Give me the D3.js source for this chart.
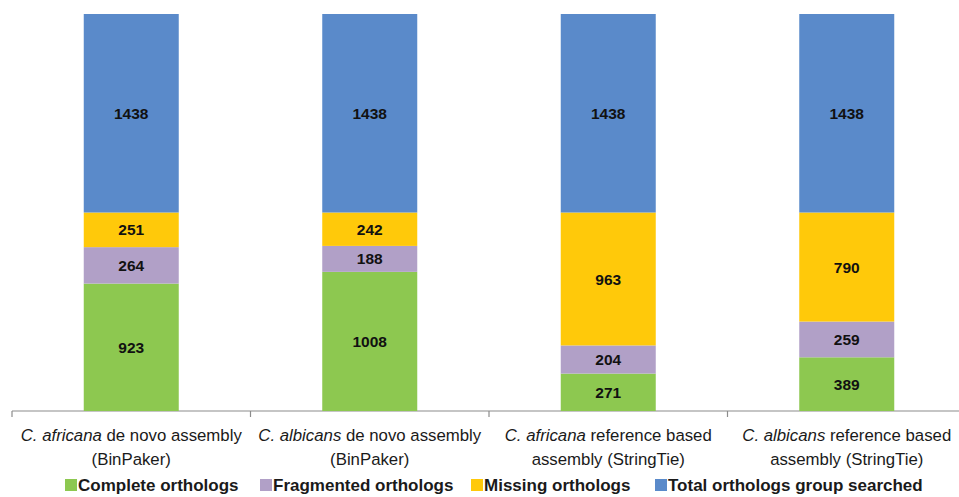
<!DOCTYPE html>
<html>
  <head>
    <meta charset="utf-8">
    <title>BUSCO orthologs</title>
    <script src="https://cdnjs.cloudflare.com/ajax/libs/d3/7.8.5/d3.min.js"></script>
    <style>
      body { margin: 0; background: #fff; }
    </style>
  </head>
  <body>
    <div id="chart"></div>
    <script>
// categories: species (italic part) + rest of label
var species = ["C. africana", "C. albicans", "C. africana", "C. albicans"];
var labelRest1 = [" de novo assembly", " de novo assembly", " reference based", " reference based"];
var labelLine2 = ["(BinPaker)", "(BinPaker)", "assembly (StringTie)", "assembly (StringTie)"];

var seriesNames = ["Complete orthologs", "Fragmented orthologs", "Missing orthologs", "Total orthologs group searched"];
var complete   = [923, 1008, 271, 389];
var fragmented = [264, 188, 204, 259];
var missing    = [251, 242, 963, 790];
var total      = [1438, 1438, 1438, 1438];
var colors = ["#8dc850", "#b1a0c7", "#ffc90a", "#5a8aca"];

var W = 959, H = 497;
var svg = d3.select("#chart").append("svg").attr("width", W).attr("height", H);

var rows = species.map(function(s, i) {
  return {i: i, complete: complete[i], fragmented: fragmented[i], missing: missing[i], total: total[i]};
});
var keys = ["complete", "fragmented", "missing", "total"];
var stack = d3.stack().keys(keys)(rows);

var x = d3.scaleBand().domain(d3.range(species.length)).range([12, 966]).paddingInner(0).paddingOuter(0);
var maxY = d3.max(rows, function(r) { return r.complete + r.fragmented + r.missing + r.total; });
var y = d3.scaleLinear().domain([0, maxY]).range([411, 14]);
var bw = 95;

// axis line + ticks
var axisG = svg.append("g").attr("transform", "translate(0,411)");
axisG.append("line").attr("x1", 12).attr("x2", W).attr("y1", 0).attr("y2", 0)
  .attr("stroke", "#8c8c8c").attr("stroke-width", 1.2);
d3.range(species.length + 1).forEach(function(k) {
  var tx = k < species.length ? x(k) : x(k - 1) + x.bandwidth();
  axisG.append("line").attr("x1", tx).attr("x2", tx).attr("y1", 0).attr("y2", 6)
    .attr("stroke", "#8c8c8c").attr("stroke-width", 1.2);
});

// bars
stack.forEach(function(layer, li) {
  var g = svg.append("g").attr("fill", colors[li]);
  layer.forEach(function(d, i) {
    var cx = x(i) + x.bandwidth() / 2;
    g.append("rect")
      .attr("x", cx - bw / 2)
      .attr("width", bw)
      .attr("y", y(d[1]))
      .attr("height", y(d[0]) - y(d[1]));
    svg.append("text")
      .attr("x", cx)
      .attr("y", (y(d[0]) + y(d[1])) / 2)
      .attr("dy", "0.36em")
      .attr("text-anchor", "middle")
      .style("font-family", "Liberation Sans, Arial, sans-serif")
      .style("font-weight", "bold")
      .style("font-size", "15.5px")
      .attr("fill", "#111")
      .text(d[1] - d[0]);
  });
});

// category labels
species.forEach(function(s, i) {
  var cx = x(i) + x.bandwidth() / 2;
  var t = svg.append("text")
    .attr("x", cx).attr("y", 441)
    .attr("text-anchor", "middle")
    .style("font-family", "Liberation Sans, Arial, sans-serif")
    .style("font-size", "16.8px")
    .attr("fill", "#1a1a1a");
  t.append("tspan").style("font-style", "italic").text(s);
  t.append("tspan").text(labelRest1[i]);
  svg.append("text")
    .attr("x", cx).attr("y", 465)
    .attr("text-anchor", "middle")
    .style("font-family", "Liberation Sans, Arial, sans-serif")
    .style("font-size", "16.8px")
    .attr("fill", "#1a1a1a")
    .text(labelLine2[i]);
});

// legend
var legX = [65, 260, 471, 655];
var leg = svg.append("g");
seriesNames.forEach(function(n, i) {
  leg.append("rect").attr("x", legX[i]).attr("y", 479).attr("width", 12).attr("height", 12)
    .attr("fill", colors[i]);
  leg.append("text")
    .attr("x", legX[i] + 13).attr("y", 491)
    .style("font-family", "Liberation Sans, Arial, sans-serif")
    .style("font-weight", "bold")
    .style("font-size", "17px")
    .attr("fill", "#1a1a1a")
    .text(n);
});
    </script>
  </body>
</html>
